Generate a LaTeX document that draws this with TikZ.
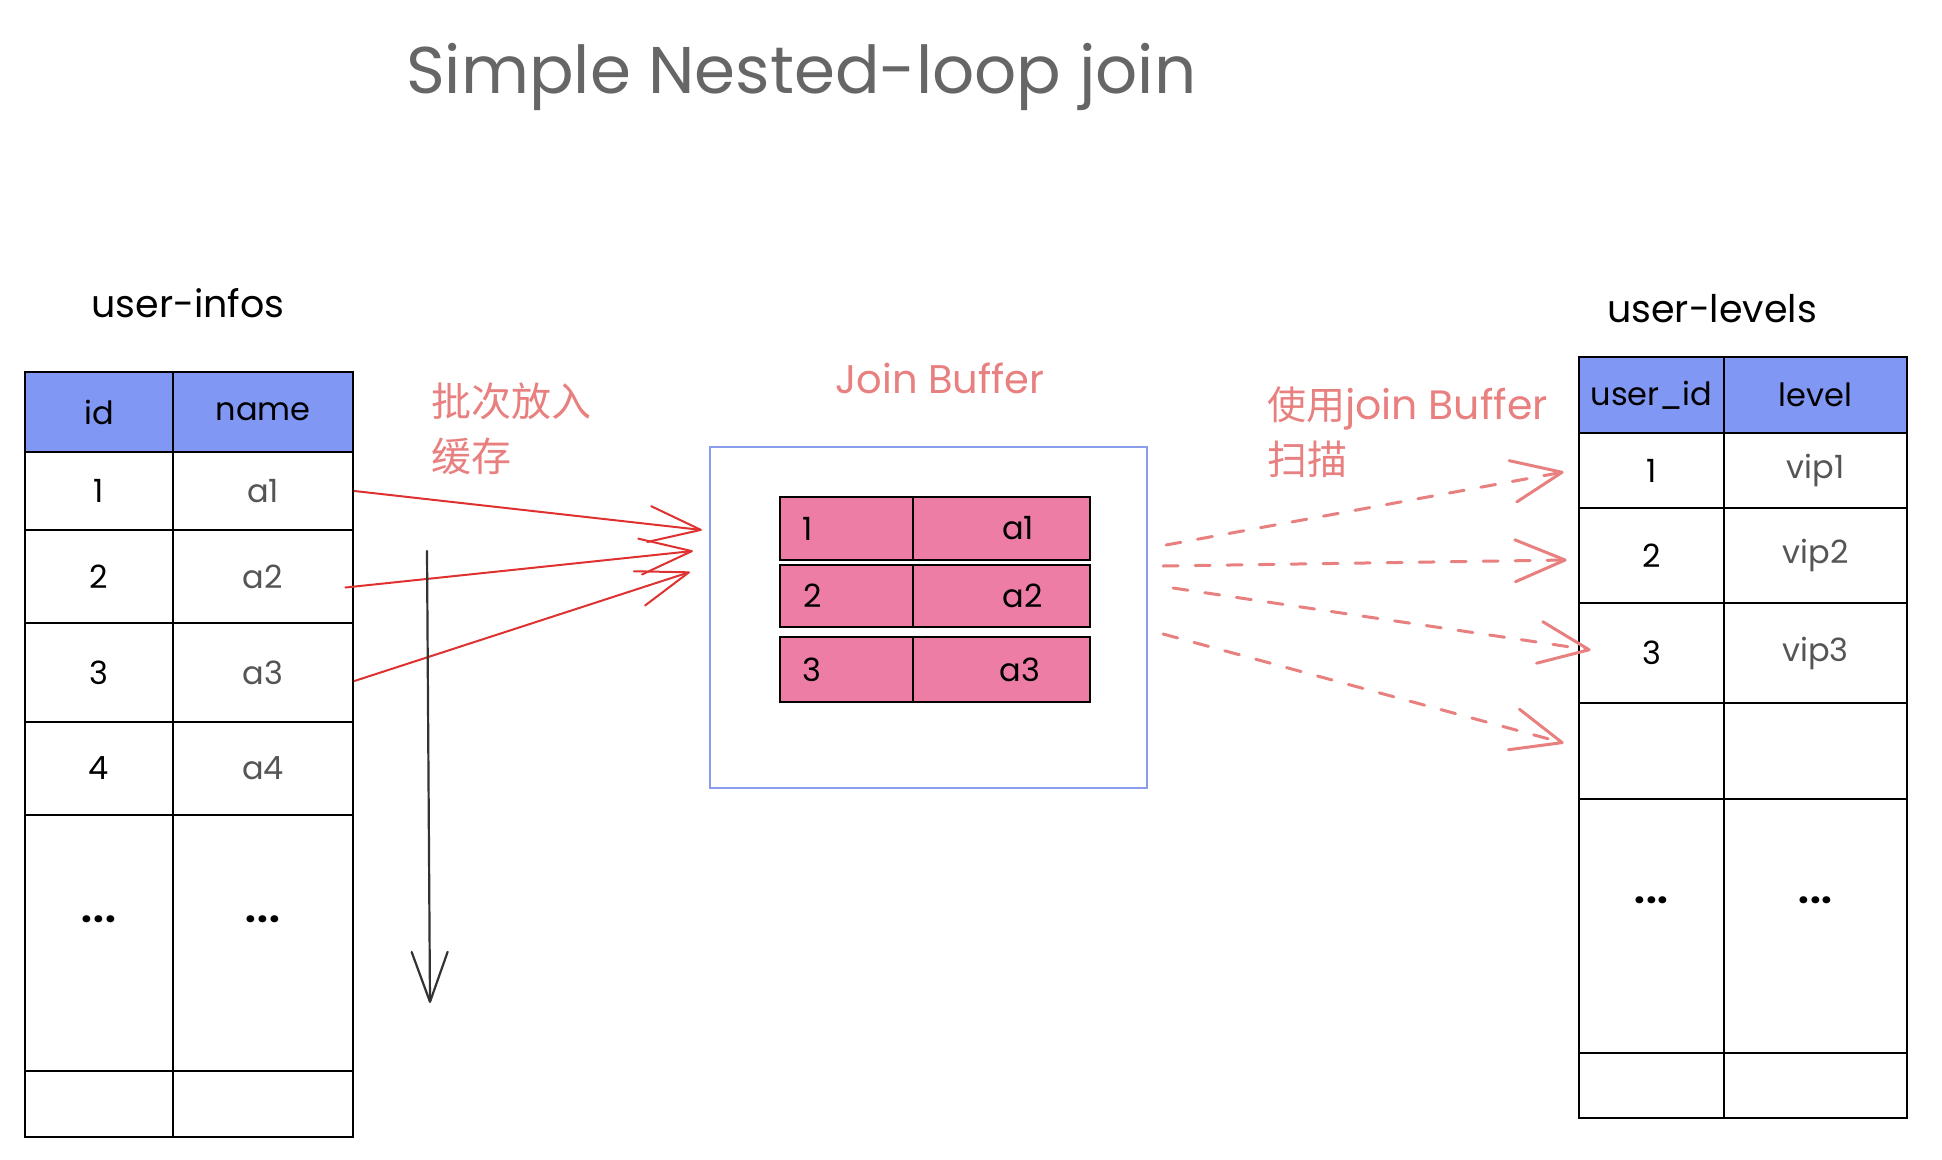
\documentclass[tikz,border=0pt]{standalone}
\usepackage{fontspec}
\setmainfont{Poppins}
\newfontfamily\cjk{Noto Sans CJK SC}
\usetikzlibrary{arrows.meta,calc}
\definecolor{hdrblue}{HTML}{8097F4}
\definecolor{rowpink}{HTML}{EE7DA5}
\definecolor{arrowred}{HTML}{E03131}
\definecolor{softred}{HTML}{E98080}
\definecolor{boxblue}{HTML}{8A9DEC}
\definecolor{titlegray}{HTML}{666666}
\definecolor{valgray}{HTML}{555555}
\newcommand{\celldots}[1]{\raisebox{#1}[0pt][0pt]{\fontsize{38}{40}\selectfont\bfseries .\kern1pt.\kern1pt.}}
\tikzset{
  tcell/.style={draw=black, line width=2.8pt, inner sep=0pt, font=\fontsize{32}{38}\selectfont},
  hcell/.style={tcell, fill=hdrblue},
  valtext/.style={text=valgray},
  brow/.style={draw=black, line width=2pt, fill=rowpink, minimum width=310pt, inner sep=0pt},
  btext/.style={font=\fontsize{32}{38}\selectfont, inner sep=0pt},
  tbllabel/.style={font=\fontsize{38}{44}\selectfont, inner sep=0pt, anchor=base},
  redlabel/.style={text=softred, inner sep=0pt, anchor=base west},
  redarrow/.style={draw=arrowred, line width=2pt, line cap=round, -{Straight Barb[length=52pt,width=36pt,round]}},
  dasharrow/.style={draw=softred, line width=3pt, line cap=round, dash pattern=on 15pt off 17pt, -{Straight Barb[length=50pt,width=42pt,round]}},
  scanarrow/.style={draw=black!80, line width=2.2pt, line cap=round, -{Straight Barb[length=50pt,width=36pt,round]}},
  divline/.style={draw=black, line width=2.2pt}
}
\begin{document}
\begin{tikzpicture}[x=1pt,y=-1pt]
\useasboundingbox (0,0) rectangle (1942,1159);
\fill[white] (0,0) rectangle (1942,1159);

% title
\node[text=titlegray, font=\fontsize{66}{72}\selectfont, inner sep=0pt, anchor=base west] (title) at (406,93) {Simple Nested-loop join};

% left table
\node[tbllabel] (lname) at (188,317) {user-infos};
\node[hcell, minimum width=148pt, minimum height=80pt] (lh1) at (99,412) {id};
\node[hcell, minimum width=180pt, minimum height=80pt] (lh2) at (263,412) {name};
\node[tcell, minimum width=148pt, minimum height=78pt] (l1a) at (99,491) {1};
\node[tcell, valtext, minimum width=180pt, minimum height=78pt] (l1b) at (263,491) {a1};
\node[tcell, minimum width=148pt, minimum height=93pt] (l2a) at (99,576.5) {2};
\node[tcell, valtext, minimum width=180pt, minimum height=93pt] (l2b) at (263,576.5) {a2};
\node[tcell, minimum width=148pt, minimum height=99pt] (l3a) at (99,672.5) {3};
\node[tcell, valtext, minimum width=180pt, minimum height=99pt] (l3b) at (263,672.5) {a3};
\node[tcell, minimum width=148pt, minimum height=93pt] (l4a) at (99,768.5) {4};
\node[tcell, valtext, minimum width=180pt, minimum height=93pt] (l4b) at (263,768.5) {a4};
\node[tcell, minimum width=148pt, minimum height=256pt] (l5a) at (99,943) {\celldots{21pt}};
\node[tcell, minimum width=180pt, minimum height=256pt] (l5b) at (263,943) {\celldots{21pt}};
\node[tcell, minimum width=148pt, minimum height=66pt] (l6a) at (99,1104) {};
\node[tcell, minimum width=180pt, minimum height=66pt] (l6b) at (263,1104) {};

% right table
\node[tbllabel] (rname) at (1712,322) {user-levels};
\node[hcell, minimum width=145pt, minimum height=76pt] (rh1) at (1651.5,395) {user\_id};
\node[hcell, minimum width=183pt, minimum height=76pt] (rh2) at (1815.5,395) {level};
\node[tcell, minimum width=145pt, minimum height=75pt] (r1a) at (1651.5,470.5) {1};
\node[tcell, valtext, minimum width=183pt, minimum height=75pt] (r1b) at (1815.5,470.5) {vip1};
\node[tcell, minimum width=145pt, minimum height=95pt] (r2a) at (1651.5,555.5) {2};
\node[tcell, valtext, minimum width=183pt, minimum height=95pt] (r2b) at (1815.5,555.5) {vip2};
\node[tcell, minimum width=145pt, minimum height=100pt] (r3a) at (1651.5,653) {3};
\node[tcell, valtext, minimum width=183pt, minimum height=100pt] (r3b) at (1815.5,653) {vip3};
\node[tcell, minimum width=145pt, minimum height=96pt] (r4a) at (1651.5,751) {};
\node[tcell, minimum width=183pt, minimum height=96pt] (r4b) at (1815.5,751) {};
\node[tcell, minimum width=145pt, minimum height=254pt] (r5a) at (1651.5,926) {\celldots{23pt}};
\node[tcell, minimum width=183pt, minimum height=254pt] (r5b) at (1815.5,926) {\celldots{23pt}};
\node[tcell, minimum width=145pt, minimum height=65pt] (r6a) at (1651.5,1085.5) {};
\node[tcell, minimum width=183pt, minimum height=65pt] (r6b) at (1815.5,1085.5) {};

% join buffer
\node[text=softred, font=\fontsize{40}{46}\selectfont, inner sep=0pt, anchor=base] (bufname) at (940,393) {Join Buffer};
\node[draw=boxblue, line width=2.2pt, minimum width=437pt, minimum height=341pt, inner sep=0pt] (buf) at (928.5,617.5) {};
\node[brow, minimum height=63pt] (b1) at (935,528.5) {};
\node[brow, minimum height=62pt] (b2) at (935,596) {};
\node[brow, minimum height=65pt] (b3) at (935,669.5) {};
\foreach \r in {b1,b2,b3}{
  \draw[divline] ($(\r.north west)!0.429!(\r.north east)$) -- ($(\r.south west)!0.429!(\r.south east)$);
}
\node[btext] (b1a) at (808,528.5) {1};
\node[btext] (b1b) at (1018,528.5) {a1};
\node[btext] (b2a) at (813,596) {2};
\node[btext] (b2b) at (1023,596) {a2};
\node[btext] (b3a) at (812,669.5) {3};
\node[btext] (b3b) at (1020,669.5) {a3};

% labels
\node[redlabel, font=\cjk\fontsize{40}{46}\selectfont] (put1) at (431,416) {批次放入};
\node[redlabel, font=\cjk\fontsize{40}{46}\selectfont] (put2) at (431,471) {缓存};
\node[redlabel, font=\fontsize{41}{46}\selectfont] (use1) at (1267,419) {{\cjk\fontsize{39}{46}\selectfont 使用}join Buffer};
\node[redlabel, font=\cjk\fontsize{40}{46}\selectfont] (use2) at (1267,474) {扫描};

% arrows into buffer
\draw[redarrow] (l1b.east) -- ([xshift=-7pt,yshift=87.5pt]buf.west);
\draw[redarrow] ([xshift=-9pt,yshift=-11pt]l2b.east) -- ([xshift=-16pt,yshift=66.5pt]buf.west);
\draw[redarrow] ([yshift=-8.5pt]l3b.east) -- ([xshift=-19pt,yshift=45.5pt]buf.west);

% scan arrow
\coordinate (scanTop) at (427,551);
\coordinate (scanEnd) at (430,1003);
\draw[scanarrow] (scanTop) -- (scanEnd);

% dashed arrows to right table
\draw[dasharrow] ([xshift=18pt,yshift=72.5pt]buf.east) -- ([xshift=-14pt,yshift=-1.5pt]r1a.west);
\draw[dasharrow] ([xshift=15pt,yshift=51.5pt]buf.east) -- ([xshift=-11pt,yshift=-4.5pt]r2a.west);
\draw[dasharrow] ([xshift=25pt,yshift=29.5pt]buf.east) -- ([xshift=13pt,yshift=3pt]r3a.west);
\draw[dasharrow] ([xshift=15pt,yshift=-16.5pt]buf.east) -- ([xshift=-14pt,yshift=8pt]r4a.west);
\end{tikzpicture}
\end{document}
